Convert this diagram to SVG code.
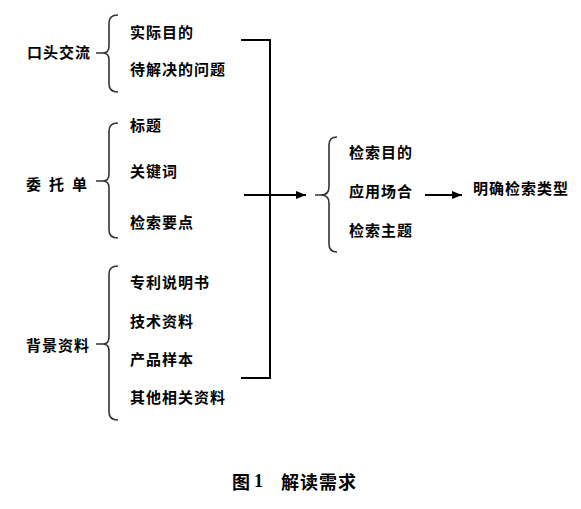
<svg xmlns="http://www.w3.org/2000/svg" width="581" height="509" viewBox="0 0 581 509">
<defs>
<style>
.t{font-family:"Noto Sans CJK SC","Liberation Serif",serif;font-size:15px;font-weight:bold;letter-spacing:1px;fill:#000;dominant-baseline:central}
.cap{font-family:"Noto Sans CJK SC","Liberation Serif",serif;font-size:18px;font-weight:bold;fill:#000;dominant-baseline:central}
.brace{fill:none;stroke:#333;stroke-width:1.6}
.ln{fill:none;stroke:#000;stroke-width:2}
</style>
<marker id="ah" markerWidth="10" markerHeight="8" refX="10" refY="4" orient="auto" markerUnits="userSpaceOnUse">
<path d="M0,0 L10,4 L0,8 Z" fill="#000"/>
</marker>
</defs>
<rect width="581" height="509" fill="#fff"/>
<g id="n-koutou">
<text class="t" x="27" y="51">口头交流</text>
<path class="brace" d="M96,53 L103,53 Q109,53 109,60 L109,84 Q109,92 118,92 M103,53 Q109,53 109,46 L109,23 Q109,15 118,15"/>
<text class="t" x="130" y="31">实际目的</text>
<text class="t" x="130" y="68">待解决的问题</text>
</g>
<g id="n-weituo">
<text class="t" x="26" y="183" style="letter-spacing:8px">委托单</text>
<path class="brace" d="M96,181 L103,181 Q109,181 109,188 L109,230 Q109,238 118,238 M103,181 Q109,181 109,174 L109,131 Q109,123 118,123"/>
<text class="t" x="130" y="124">标题</text>
<text class="t" x="130" y="170">关键词</text>
<text class="t" x="130" y="221">检索要点</text>
</g>
<g id="n-beijing">
<text class="t" x="26" y="344">背景资料</text>
<path class="brace" d="M96,344 L103,344 Q109,344 109,351 L109,412 Q109,420 118,420 M103,344 Q109,344 109,337 L109,274 Q109,266 118,266"/>
<text class="t" x="130" y="281">专利说明书</text>
<text class="t" x="130" y="320">技术资料</text>
<text class="t" x="130" y="358">产品样本</text>
<text class="t" x="130" y="396">其他相关资料</text>
</g>
<g id="n-result">
<path class="brace" d="M315,195 L321,195 Q329,195 329,187 L329,145 Q329,137 337,137 M321,195 Q329,195 329,203 L329,244 Q329,252 337,252"/>
<text class="t" x="349" y="151">检索目的</text>
<text class="t" x="349" y="190">应用场合</text>
<text class="t" x="349" y="229">检索主题</text>
</g>
<g id="n-type">
<text class="t" x="473" y="187">明确检索类型</text>
</g>
<g id="connectors">
<path class="ln" d="M241,40 L270,40 L270,378 L241,378"/>
<line class="ln" x1="244" y1="195" x2="306" y2="195" marker-end="url(#ah)"/>
<line class="ln" x1="425" y1="195" x2="462" y2="195" marker-end="url(#ah)"/>
</g>
<g id="caption">
<text class="cap" x="232" y="481">图</text>
<text class="cap" x="254" y="481" style="font-family:'Liberation Serif',serif">1</text>
<text class="cap" x="281" y="481" style="letter-spacing:1px">解读需求</text>
</g>
</svg>
